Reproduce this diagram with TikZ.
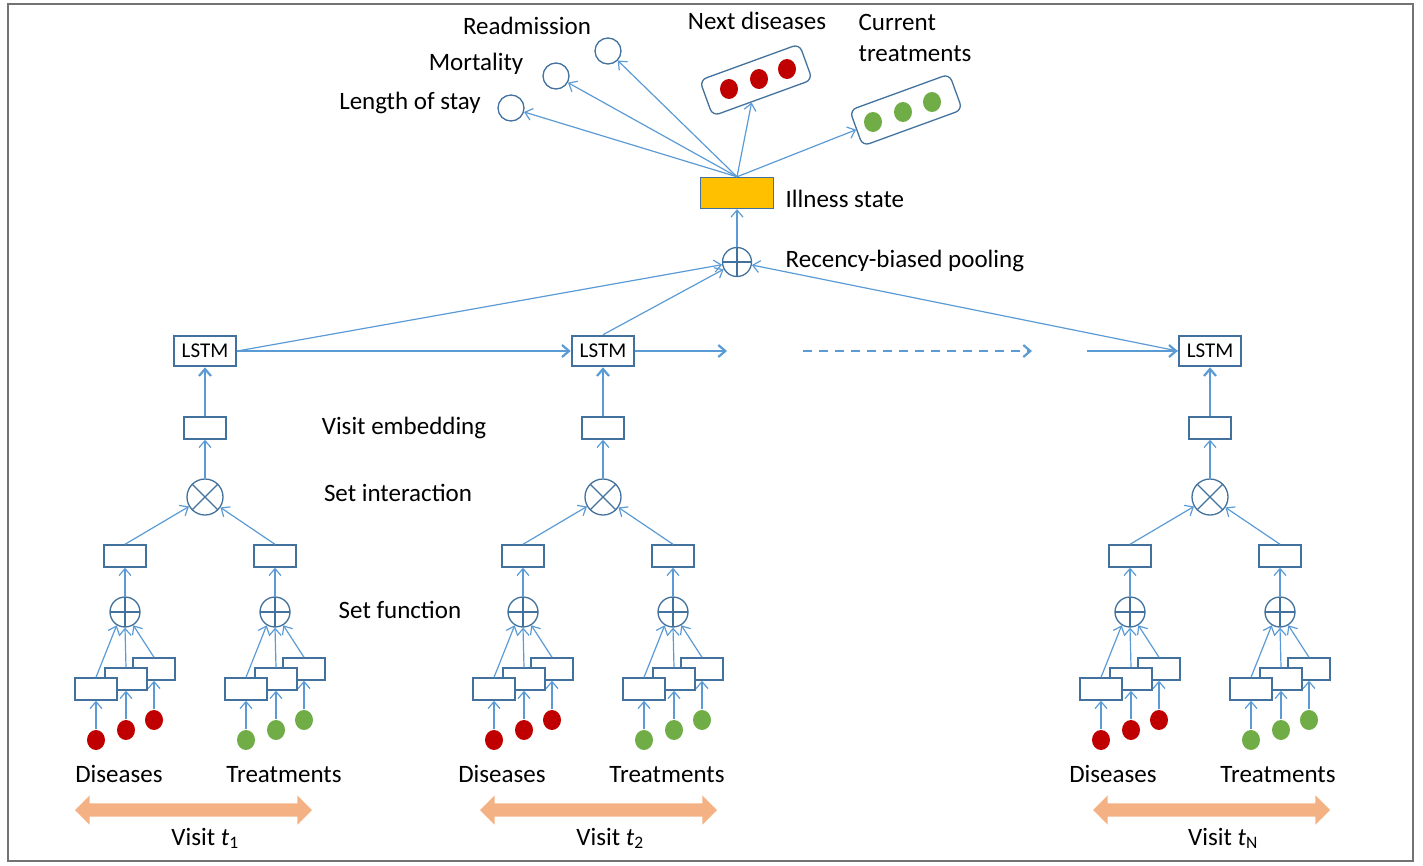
\documentclass[tikz,border=0pt]{standalone}
\usepackage{fontspec}
\setmainfont{Carlito}
\usetikzlibrary{arrows.meta,shapes.geometric,shapes.arrows}
\definecolor{lineblue}{HTML}{5B9BD5}
\definecolor{boxblue}{HTML}{41719C}
\definecolor{dred}{HTML}{C00000}
\definecolor{dgreen}{HTML}{70AD47}
\definecolor{vorange}{HTML}{F4B183}
\definecolor{illyel}{HTML}{FFC000}
\begin{document}
\begin{tikzpicture}[x=1pt,y=-1pt,>={Straight Barb[length=7pt,width=12pt]},line width=1.3pt,
	conn/.style={->,draw=lineblue,line width=1.2pt},
	bigconn/.style={->,draw=lineblue,line width=2.2pt},
	box/.style={draw=boxblue,fill=white,line width=1.4pt,minimum width=42pt,minimum height=22pt,inner sep=0},
	lstm/.style={draw=boxblue,fill=white,line width=2.6pt,minimum width=62pt,minimum height=30pt,inner sep=0,font=\fontsize{21}{24}\selectfont},
	oplus/.style={circle,draw=boxblue,line width=1.3pt,minimum size=#1,inner sep=0,
		path picture={\draw[boxblue,line width=1.3pt] (path picture bounding box.north)--(path picture bounding box.south) (path picture bounding box.west)--(path picture bounding box.east);}},
	otimes/.style={circle,draw=boxblue,line width=1.3pt,minimum size=36pt,inner sep=0,
		path picture={\draw[boxblue,line width=1.3pt] (path picture bounding box.north west)--(path picture bounding box.south east) (path picture bounding box.north east)--(path picture bounding box.south west);}},
	score/.style={circle,draw=boxblue,line width=1.3pt,minimum size=26pt,inner sep=0},
	setbox/.style={draw=boxblue,line width=1.3pt,rounded corners=7pt,minimum width=106pt,minimum height=38pt,inner sep=0},
	dot/.style={ellipse,minimum width=18pt,minimum height=20pt,inner sep=0},
	lbl/.style={font=\fontsize{25}{31}\selectfont,inner sep=0},
	visit/.style={double arrow,fill=vorange,minimum height=237pt,inner xsep=0,inner ysep=6pt,double arrow head extend=8pt}]
\useasboundingbox (0,0) rectangle (1423,865);
\draw[draw=black!55,line width=1.5pt] (8,4) rectangle (1413,861);

% outputs
\node[fill=illyel,draw=boxblue,line width=1.4pt,minimum width=73pt,minimum height=31pt,inner sep=0] (ill) at (737,193) {};
\node[oplus=29pt] (pool) at (737,262) {};
\node[score] (los) at (511,108) {};
\node[score] (mort) at (556,76) {};
\node[score] (readm) at (608,51) {};
\node[setbox,rotate=20] (nd) at (756,80) {};
\node[setbox,rotate=20] (ct) at (906,110) {};
\foreach \i/\px/\py in {1/729/89,2/759/79,3/787/69}
	\node[dot,fill=dred] (ndd\i) at (\px,\py) {};
\foreach \i/\px/\py in {1/873/122,2/903/112,3/932/102}
	\node[dot,fill=dgreen] (ctd\i) at (\px,\py) {};
\foreach \t in {los,mort,readm,nd,ct}
	\draw[conn] (ill.north) -- (\t);
\draw[conn] (pool) -- (ill);

\node[lbl,anchor=base] (lreadm) at (527,34) {Readmission};
\node[lbl,anchor=base] (lmort) at (476,70) {Mortality};
\node[lbl,anchor=base] (llos) at (410,109) {Length of stay};
\node[lbl,anchor=base] (lnd) at (757,29) {Next diseases};
\node[lbl,anchor=base west,align=left] (lct) at (858,61) {Current\\treatments};
\node[lbl,anchor=base west] (lill) at (785,207) {Illness state};
\node[lbl,anchor=base west] (lpool) at (785,267) {Recency-biased pooling};
\node[lbl,anchor=base] (lemb) at (404,434) {Visit embedding};
\node[lbl,anchor=base] (lint) at (398,501) {Set interaction};
\node[lbl,anchor=base] (lfun) at (400,618) {Set function};

% visits
\foreach \v/\dx/\lx/\ax/\sub in {1/0/0/0/1,2/398/383/405/2,3/1005/994/1018/N}{
	\node[lstm] (lstm\v) at (205+\dx,351) {LSTM};
	\node[box] (emb\v) at (205+\dx,428) {};
	\node[otimes] (x\v) at (205+\dx,497) {};
	\draw[bigconn] (emb\v) -- (lstm\v);
	\draw[conn] (x\v) -- (emb\v);
	\foreach \s/\sx/\col in {d/0/dred,t/150/dgreen}{
		\node[box] (set\s\v) at (125+\dx+\sx,556) {};
		\node[oplus=30pt] (sum\s\v) at (125+\dx+\sx,612) {};
		\draw[conn] (sum\s\v) -- (set\s\v);
		\draw[conn] (set\s\v.north) -- (x\v);
		\foreach \k/\kx/\ky in {3/58/20,2/30/10,1/0/0}{
			\node[box] (el\s\v\k) at (96+\dx+\sx+\kx,689-\ky) {};
			\node[dot,fill=\col] (dot\s\v\k) at (96+\dx+\sx+\kx,740-\ky) {};
			\draw[conn] (dot\s\v\k) -- (el\s\v\k);
		}
		\draw[conn] (el\s\v1.north) -- (sum\s\v.-122);
		\draw[conn] (el\s\v2.north) -- (sum\s\v.south);
		\draw[conn] (el\s\v3.north) -- (sum\s\v.-58);
	}
	\node[lbl,anchor=base] (dis\v) at (119+\lx,782) {Diseases};
	\node[lbl,anchor=base] (trt\v) at (284+\lx,782) {Treatments};
	\node[visit] (va\v) at (193.5+\ax,810) {};
	\node[lbl,anchor=base] (vl\v) at (205+\ax,845) {Visit \textit{t}\textsubscript{\sub}};
}

% recurrence
\coordinate (gap1) at (727,351);
\coordinate (gap2) at (803,351);
\coordinate (gap3) at (1032,351);
\coordinate (gap4) at (1087,351);
\draw[bigconn] (lstm1) -- (lstm2);
\draw[bigconn] (lstm2) -- (gap1);
\draw[bigconn,dash pattern=on 9pt off 7pt] (gap2) -- (gap3);
\draw[bigconn] (gap4) -- (lstm3);
\draw[conn] (lstm1.east) -- (pool);
\draw[conn] (lstm2.north) -- (pool);
\draw[conn] (lstm3.west) -- (pool);
\end{tikzpicture}
\end{document}
